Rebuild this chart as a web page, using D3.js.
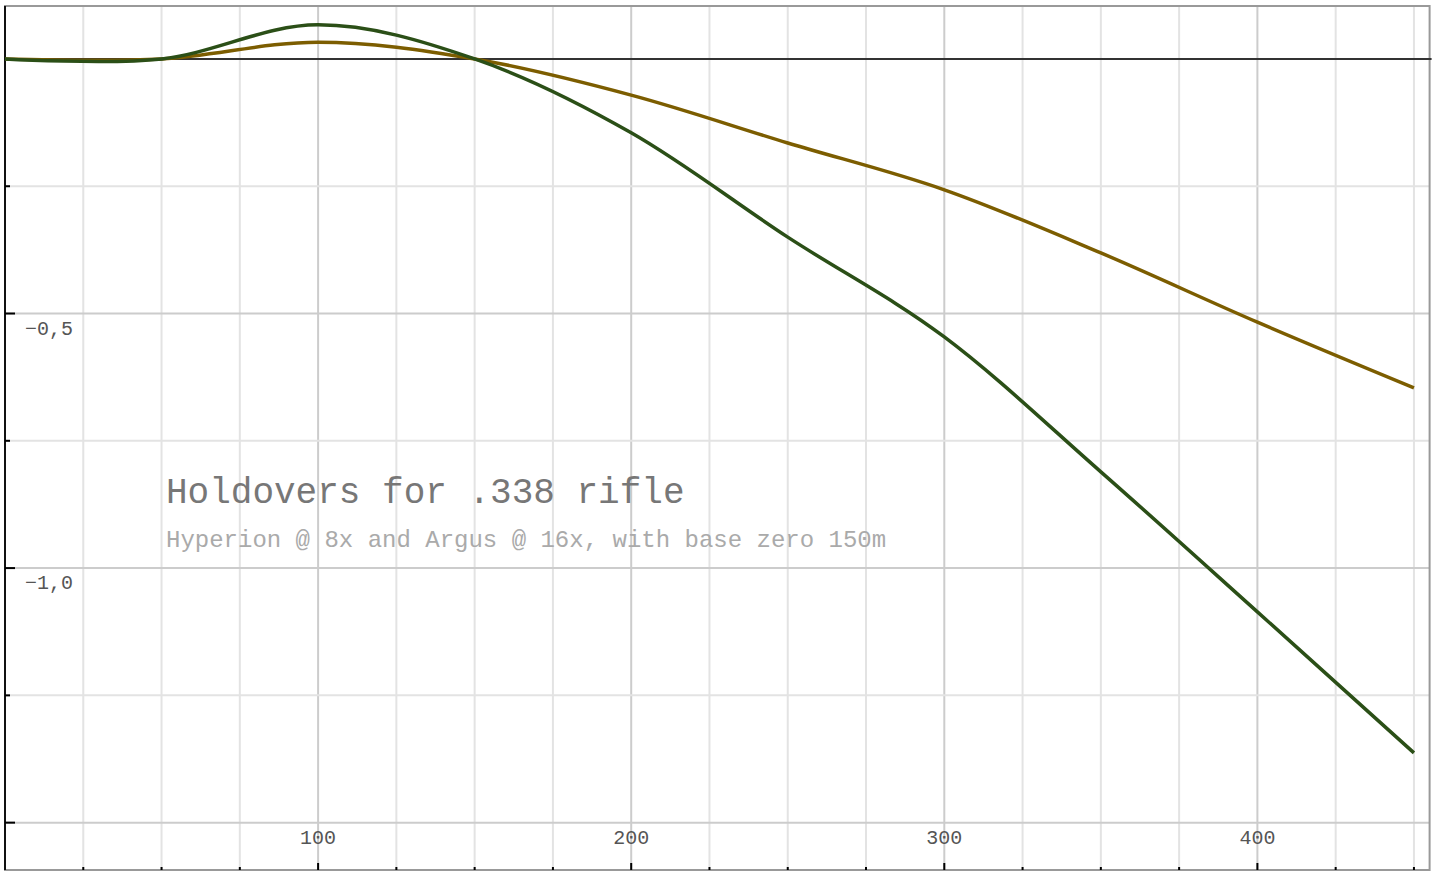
<!DOCTYPE html>
<html>
<head>
<meta charset="utf-8">
<script src="https://cdn.jsdelivr.net/npm/d3@7"></script>
<style>
body { margin: 0; background: #fff; }
text { font-family: "Courier New", "Liberation Mono", monospace; }
</style>
</head>
<body>
<script>

// distances (m) and holdovers
var distances = [0, 50, 100, 150, 200, 250, 300, 350, 400, 450];
var argus16x = [0, 0, 0.067, 0, -0.145, -0.35, -0.546, -0.811, -1.086, -1.363];
var hyperion8x = [0, 0, 0.033, 0, -0.071, -0.165, -0.257, -0.381, -0.517, -0.646];
var xLabels = [100, 200, 300, 400];
var yLabels = [-0.5, -1.0];

var width = 1435, height = 877;

var svg = d3.select("body").append("svg")
  .attr("width", width)
  .attr("height", height);

var x = d3.scaleLinear().domain([0, 455]).range([5, 1429.6]);
var y = d3.scaleLinear().domain([0.104, -1.593]).range([6, 870]);

// grid
var xGrid = d3.range(25, 455, 25);
svg.selectAll(".vgrid").data(xGrid).enter().append("line")
  .attr("x1", d => x(d)).attr("x2", d => x(d))
  .attr("y1", y.range()[0]).attr("y2", y.range()[1])
  .style("stroke", d => d % 100 == 0 ? "#cccccc" : "#e3e3e3")
  .style("stroke-width", 2);

var yGrid = [-0.25, -0.5, -0.75, -1.0, -1.25, -1.5];
svg.selectAll(".hgrid").data(yGrid).enter().append("line")
  .attr("x1", x(0)).attr("x2", x.range()[1])
  .attr("y1", d => y(d)).attr("y2", d => y(d))
  .style("stroke", d => Math.abs(d * 2 - Math.round(d * 2)) < 1e-9 ? "#cccccc" : "#e3e3e3")
  .style("stroke-width", 2);

// frame
svg.append("rect")
  .attr("x", x(0)).attr("y", y.range()[0])
  .attr("width", x.range()[1] - x(0))
  .attr("height", y.range()[1] - y.range()[0])
  .style("fill", "none")
  .style("stroke", "#999")
  .style("stroke-width", 2);

// zero line
svg.append("line")
  .attr("x1", x(0)).attr("x2", x.range()[1] + 2)
  .attr("y1", y(0)).attr("y2", y(0))
  .style("stroke", "#333").style("stroke-width", 2);

// left axis line
svg.append("line")
  .attr("x1", x(0)).attr("x2", x(0))
  .attr("y1", y.range()[0]).attr("y2", y.range()[1])
  .style("stroke", "#111").style("stroke-width", 2);

// bottom ticks
svg.selectAll(".xtick").data(xGrid).enter().append("line")
  .attr("x1", d => x(d)).attr("x2", d => x(d))
  .attr("y1", d => y.range()[1] - (d % 100 == 0 ? 7 : 3))
  .attr("y2", y.range()[1])
  .style("stroke", "#000").style("stroke-width", 2);

// left ticks
var yTicks = [0].concat(yGrid);
svg.selectAll(".ytick").data(yTicks).enter().append("line")
  .attr("x1", x(0))
  .attr("x2", d => x(0) + (Math.abs(d * 2 - Math.round(d * 2)) < 1e-9 ? 10 : 5))
  .attr("y1", d => y(d)).attr("y2", d => y(d))
  .style("stroke", "#000").style("stroke-width", 2);

// tick labels
svg.selectAll(".xlabel").data(xLabels).enter().append("text")
  .attr("x", d => x(d))
  .attr("y", 844)
  .attr("text-anchor", "middle")
  .style("font-size", "20px")
  .style("fill", "#555")
  .text(d => d);

var fmt = d3.formatLocale({decimal: ",", thousands: ".", grouping: [3], currency: ["", ""]}).format(".1f");
svg.selectAll(".ylabel").data(yLabels).enter().append("text")
  .attr("x", x(0) + 20)
  .attr("y", d => y(d) + 21)
  .style("font-size", "20px")
  .style("fill", "#555")
  .text(d => fmt(d));

// lines
var line = d3.line()
  .x(d => x(d[0]))
  .y(d => y(d[1]))
  .curve(d3.curveCardinal);

svg.append("path")
  .datum(distances.map((d, i) => [d, hyperion8x[i]]))
  .attr("d", line)
  .style("fill", "none")
  .style("stroke", "#7c5d00")
  .style("stroke-width", 3.5);

svg.append("path")
  .datum(distances.map((d, i) => [d, argus16x[i]]))
  .attr("d", line)
  .style("fill", "none")
  .style("stroke", "#2b4f17")
  .style("stroke-width", 3.5);

// title
svg.append("text")
  .attr("x", 166).attr("y", 503)
  .style("font-size", "36px")
  .style("fill", "#777")
  .text("Holdovers for .338 rifle");

svg.append("text")
  .attr("x", 166).attr("y", 547)
  .style("font-size", "24px")
  .style("fill", "#aaa")
  .text("Hyperion @ 8x and Argus @ 16x, with base zero 150m");

</script>
</body>
</html>
